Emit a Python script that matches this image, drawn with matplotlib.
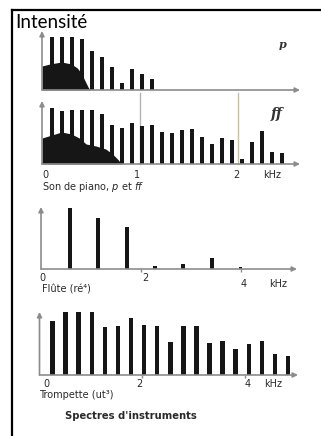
import numpy as np
import matplotlib
matplotlib.use("Agg")
import matplotlib.pyplot as plt
from matplotlib.lines import Line2D

# ---------------- data ----------------
piano_f0 = 0.102  # kHz
piano_p = [52.7, 52.7, 52.7, 51, 39.3, 33.3, 23.3, 7.3, 20.7, 16, 11]
piano_ff = [55.5, 53.3, 54, 54, 53.5, 49.5, 38.5, 35.7, 41, 37.6, 39.3, 31.5,
            30.7, 34, 35, 27.3, 19.8, 26.3, 24, 5.3, 22.3, 33.2, 12.3, 10.7]
piano_p_noise_x = [0, 0.08, 0.2, 0.3, 0.36, 0.4, 0.44, 0.47, 0.49]
piano_p_noise_y = [24, 26, 28, 26, 22, 17, 9, 3, 0]
piano_ff_noise_x = [0, 0.1, 0.2, 0.3, 0.38, 0.45, 0.55, 0.65, 0.72, 0.78, 0.81]
piano_ff_noise_y = [26, 29, 32, 30, 26, 20, 18, 15, 10, 4, 0]

flute_f0 = 0.57  # kHz
flute = [61.3, 50.7, 42.3, 3, 5, 10.7, 2.3]

trumpet_f0 = 0.255  # kHz
trumpet = [54.3, 63.3, 63.3, 64, 48.3, 49, 56.7, 50, 49.3, 33.3, 49.3, 49,
           32.3, 34, 25.7, 31, 34, 21, 19]

piano_ticks = ["0", "1", "2"]
wide_ticks = ["0", "2", "4"]

# ---------------- figure ----------------
W, H, DPI = 321, 436, 100
fig = plt.figure(figsize=(W / DPI, H / DPI), dpi=DPI)
fig.patch.set_facecolor("white")

AX_COL = "#8c8c8c"
BAR_COL = "#161616"
TXT_COL = "#2a2a2a"
FONT = "DejaVu Sans"


def panel(x0, base, top, ppk, xend):
    xmax = (xend - x0) / ppk
    ax = fig.add_axes([x0 / W, 1 - base / H, (xend - x0) / W, (base - top) / H])
    ax.set_xlim(0, xmax)
    ax.set_ylim(0, base - top)
    for s in ax.spines.values():
        s.set_visible(False)
    ax.set_yticks([])
    ax.patch.set_alpha(0)
    ax.annotate("", xy=(xmax, 0), xytext=(0, 0), annotation_clip=False,
                arrowprops=dict(arrowstyle="-|>", color=AX_COL, lw=1.2,
                                mutation_scale=7, shrinkA=0, shrinkB=0))
    ax.annotate("", xy=(0, base - top), xytext=(0, 0), annotation_clip=False,
                arrowprops=dict(arrowstyle="-|>", color=AX_COL, lw=1.2,
                                mutation_scale=7, shrinkA=0, shrinkB=0))
    return ax


def bars(ax, f0, vals, width):
    x = f0 * np.arange(1, len(vals) + 1)
    ax.bar(x, vals, width=width, color=BAR_COL, linewidth=0)


# piano p
ax_p = panel(42, 90, 31, 98, 300)
ax_p.set_xticks([])
ax_p.fill_between(piano_p_noise_x, piano_p_noise_y, 0, color=BAR_COL, lw=0)
bars(ax_p, piano_f0, piano_p, 0.036)
ax_p.text(2.45, 45, "p", fontsize=8, family="DejaVu Serif", style="italic",
          weight="bold", color="#333", ha="center", va="center")

# piano ff
ax_ff = panel(42, 164, 101, 98, 300)
ax_ff.set_xticks([])
for xv, c in [(1, "#b5b5b5"), (2, "#cdbf9e")]:
    ax_ff.plot([xv, xv], [0, 71], color=c, lw=1.0, clip_on=False, zorder=0)
ax_ff.fill_between(piano_ff_noise_x, piano_ff_noise_y, 0, color=BAR_COL, lw=0)
bars(ax_ff, piano_f0, piano_ff, 0.036)
ax_ff.text(2.4, 50, "ff", fontsize=10, family="DejaVu Serif", style="italic",
           weight="bold", color="#333", ha="center", va="center")
for xv, lab in zip([0.03, 0.97, 1.98], piano_ticks):
    ax_ff.text(xv, -11, lab, fontsize=7, family=FONT, color=TXT_COL,
               ha="center", va="center")
ax_ff.text(2.35, -11, "kHz", fontsize=7, family=FONT, color=TXT_COL,
           ha="center", va="center")
ax_ff.text(0.0, -23, "Son de piano, $\\it{p}$ et $\\it{ff}$", fontsize=7,
           family=FONT, color=TXT_COL, ha="left", va="center")

# flute
ax_fl = panel(41, 269, 207, 50, 297)
ax_fl.set_xticks([2, 4])
ax_fl.tick_params(axis="x", length=2, width=1, color=AX_COL, labelbottom=False)
bars(ax_fl, flute_f0, flute, 0.08)
for xv, yv, lab in zip([0.02, 2.08, 4.05], [-9, -9, -15], wide_ticks):
    ax_fl.text(xv, yv, lab, fontsize=7, family=FONT, color=TXT_COL,
               ha="center", va="center")
ax_fl.text(4.75, -15, "kHz", fontsize=7, family=FONT, color=TXT_COL,
           ha="center", va="center")
ax_fl.text(0.03, -20, "Flûte (ré⁴)", fontsize=7, family=FONT, color=TXT_COL,
           ha="left", va="center")

# trumpet
ax_tr = panel(39.5, 375, 312, 51.3, 298)
ax_tr.set_xticks([2, 4])
ax_tr.tick_params(axis="x", length=2, width=1, color=AX_COL, labelbottom=False)
bars(ax_tr, trumpet_f0, trumpet, 0.088)
for xv, lab in zip([0.13, 1.95, 4.05], wide_ticks):
    ax_tr.text(xv, -8.5, lab, fontsize=7, family=FONT, color=TXT_COL,
               ha="center", va="center")
ax_tr.text(4.55, -8.5, "kHz", fontsize=7, family=FONT, color=TXT_COL,
           ha="center", va="center")
ax_tr.text(0.0, -20, "Trompette (ut³)", fontsize=7, family=FONT, color=TXT_COL,
           ha="left", va="center")

# title and caption
fig.text(15 / W, 1 - 22 / H, "Intensité", fontsize=13.5, family="Lato",
         color="black", ha="left", va="center")
fig.text(131 / W, 1 - 416 / H, "Spectres d'instruments", fontsize=7.2,
         family=FONT, weight="bold", color=TXT_COL, ha="center", va="center")

# frame
fig.add_artist(Line2D([12 / W, 1.0], [1 - 10 / H, 1 - 10 / H], color="black",
                      lw=1.6, transform=fig.transFigure))
fig.add_artist(Line2D([12 / W, 12 / W], [0.0, 1 - 10 / H], color="black",
                      lw=1.6, transform=fig.transFigure))

fig.savefig("out.png", dpi=DPI, facecolor="white")
